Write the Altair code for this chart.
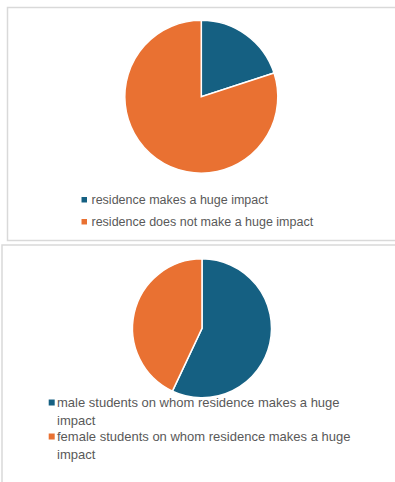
import altair as alt
import pandas as pd

# Share of respondents saying residence makes a huge impact
top_labels = ["residence makes a huge impact", "residence does not make a huge impact"]
top_values = [20, 80]

# Among those, split by gender
bottom_labels = [
    "male students on whom residence makes a huge impact",
    "female students on whom residence makes a huge impact",
]
bottom_values = [57, 43]

palette = ["#156082", "#E97132"]
frame_color = "#d9d9d9"
text_color = "#595959"
font = "Liberation Sans"

df_top = pd.DataFrame({"category": top_labels, "share": top_values, "rank": list(range(len(top_labels)))})
df_bottom = pd.DataFrame({"category": bottom_labels, "share": bottom_values, "rank": list(range(len(bottom_labels)))})

blank = alt.Data(values=[{}])


def frame(x0, y0, y1):
    return alt.Chart(blank).mark_rect(filled=False, stroke=frame_color, strokeWidth=1.5).encode(
        x=alt.value(x0), x2=alt.value(430), y=alt.value(y0), y2=alt.value(y1)
    )


def legend(x, y, size, symbol, offset, expr=None):
    kw = dict(
        orient="none",
        legendX=x,
        legendY=y,
        title=None,
        symbolType="square",
        symbolSize=symbol,
        symbolStrokeWidth=0,
        labelFont=font,
        labelFontSize=size,
        labelColor=text_color,
        labelLimit=500,
        labelOffset=offset,
        padding=0,
        rowPadding=9,
    )
    if expr:
        kw["labelExpr"] = expr
        kw["labelBaseline"] = "alphabetic"
        kw["rowPadding"] = 2
        # square nudged up and right so it sits level with the first text line
        kw["symbolType"] = "M-0.6,-2.33H1.4V-0.33H-0.6Z"
    return alt.Legend(**kw)


pie_top = alt.Chart(df_top).mark_arc(outerRadius=76.5, stroke="white", strokeWidth=1.5).encode(
    theta=alt.Theta("share:Q", stack=True),
    color=alt.Color(
        "category:N",
        scale=alt.Scale(domain=top_labels, range=palette),
        legend=legend(78, 193.5, 12.5, 30, 1),
    ),
    order=alt.Order("rank:Q"),
    x=alt.value(201.3),
    y=alt.value(96.7),
)

# Break each long label before its last word
wrap_last_word = (
    "[slice(datum.label, 0, lastindexof(datum.label, ' ')), "
    "slice(datum.label, lastindexof(datum.label, ' ') + 1)]"
)

pie_bottom = alt.Chart(df_bottom).mark_arc(outerRadius=69.5, stroke="white", strokeWidth=1.5).encode(
    theta=alt.Theta("share:Q", stack=True),
    color=alt.Color(
        "category:N",
        scale=alt.Scale(domain=bottom_labels, range=palette),
        legend=legend(44, 400, 13, 36, 0, wrap_last_word),
    ),
    order=alt.Order("rank:Q"),
    x=alt.value(202),
    y=alt.value(328.3),
)

chart = (
    alt.layer(frame(7.5, 7.5, 240.5), frame(2, 245, 520), pie_top, pie_bottom)
    .resolve_scale(theta="independent", color="independent")
    .properties(width=395, height=482, padding=0, autosize=alt.AutoSizeParams(type="none"))
    .configure(view={"stroke": "transparent"}, style={"guide-label": {"lineHeight": 18.5}})
)

chart.save("out.html", embed_options={"renderer": "svg", "actions": False})
